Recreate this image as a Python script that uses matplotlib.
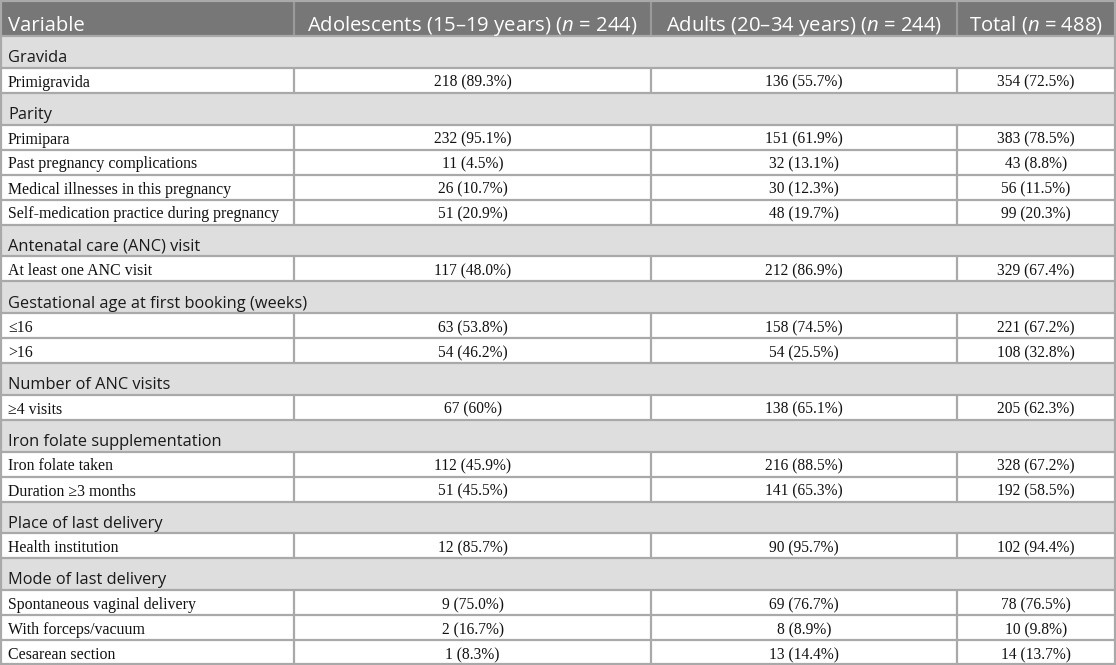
import matplotlib.pyplot as plt
from matplotlib.patches import Rectangle

plt.rcParams['mathtext.fontset'] = 'custom'
plt.rcParams['mathtext.rm'] = 'Open Sans'
plt.rcParams['mathtext.it'] = 'Open Sans:italic'

# table content
headers = ["Variable",
           "Adolescents (15\u201319 years) ($\\mathit{n}$ = 244)",
           "Adults (20\u201334 years) ($\\mathit{n}$ = 244)",
           "Total ($\\mathit{n}$ = 488)"]

sections = ["Gravida", "Parity", "Antenatal care (ANC) visit",
            "Gestational age at first booking (weeks)", "Number of ANC visits",
            "Iron folate supplementation", "Place of last delivery",
            "Mode of last delivery"]

row_labels = [
    ["Primigravida"],
    ["Primipara", "Past pregnancy complications", "Medical illnesses in this pregnancy",
     "Self-medication practice during pregnancy"],
    ["At least one ANC visit"],
    ["\u226416", ">16"],
    ["\u22654 visits"],
    ["Iron folate taken", "Duration \u22653 months"],
    ["Health institution"],
    ["Spontaneous vaginal delivery", "With forceps/vacuum", "Cesarean section"],
]

adolescents = [
    ["218 (89.3%)"],
    ["232 (95.1%)", "11 (4.5%)", "26 (10.7%)", "51 (20.9%)"],
    ["117 (48.0%)"],
    ["63 (53.8%)", "54 (46.2%)"],
    ["67 (60%)"],
    ["112 (45.9%)", "51 (45.5%)"],
    ["12 (85.7%)"],
    ["9 (75.0%)", "2 (16.7%)", "1 (8.3%)"],
]

adults = [
    ["136 (55.7%)"],
    ["151 (61.9%)", "32 (13.1%)", "30 (12.3%)", "48 (19.7%)"],
    ["212 (86.9%)"],
    ["158 (74.5%)", "54 (25.5%)"],
    ["138 (65.1%)"],
    ["216 (88.5%)", "141 (65.3%)"],
    ["90 (95.7%)"],
    ["69 (76.7%)", "8 (8.9%)", "13 (14.4%)"],
]

totals = [
    ["354 (72.5%)"],
    ["383 (78.5%)", "43 (8.8%)", "56 (11.5%)", "99 (20.3%)"],
    ["329 (67.4%)"],
    ["221 (67.2%)", "108 (32.8%)"],
    ["205 (62.3%)"],
    ["328 (67.2%)", "192 (58.5%)"],
    ["102 (94.4%)"],
    ["78 (76.5%)", "10 (9.8%)", "14 (13.7%)"],
]

W, H = 1116, 665
col_edges = [1, 294, 651, 957, 1115]
header_h = 36
section_h = 31.75
row_h = 25

header_bg = "#777777"
section_bg = "#dedede"
line_col = "#a9a9a9"

fig = plt.figure(figsize=(W / 100, H / 100), dpi=100)
ax = fig.add_axes([0, 0, 1, 1])
ax.set_xlim(0, W)
ax.set_ylim(H, 0)
ax.axis("off")

sans = "Open Sans"
serif = "Liberation Serif"


def hline(y, x0=col_edges[0], x1=col_edges[-1]):
    ax.plot([x0, x1], [y, y], color=line_col, lw=1.6, solid_capstyle="butt")


def vline(x, y0, y1, col=line_col):
    ax.plot([x, x], [y0, y1], color=col, lw=1.6, solid_capstyle="butt")


# header
y = 0
ax.add_patch(Rectangle((col_edges[0], y), col_edges[-1] - col_edges[0], header_h,
                       facecolor=header_bg, edgecolor="none"))
for i, h in enumerate(headers):
    if i == 0:
        ax.text(col_edges[0] + 7, y + 31, h, color="white", fontsize=14.6,
                family=sans, ha="left", va="baseline")
    else:
        ax.text((col_edges[i] + col_edges[i + 1]) / 2, y + 31, h,
                color="white", fontsize=14.6, family=sans, ha="center", va="baseline")
for x in col_edges[1:-1]:
    vline(x, y, y + header_h, "#9a9a9a")
y += header_h

for s, name in enumerate(sections):
    ax.add_patch(Rectangle((col_edges[0], y), col_edges[-1] - col_edges[0], section_h,
                           facecolor=section_bg, edgecolor="none"))
    hline(y)
    ax.text(col_edges[0] + 7, y + section_h - 5.5, name, color="#1a1a1a", fontsize=11.8,
            family=sans, ha="left", va="baseline")
    y += section_h
    for r, lab in enumerate(row_labels[s]):
        hline(y)
        by = y + row_h - 6
        ax.text(col_edges[0] + 7, by, lab, fontsize=11.4, family=serif,
                ha="left", va="baseline", color="#111111")
        for c, vals in enumerate([adolescents, adults, totals]):
            ax.text((col_edges[c + 1] + col_edges[c + 2]) / 2, by, vals[s][r],
                    fontsize=11.2, family=serif, ha="center", va="baseline", color="#111111")
        for x in col_edges[1:-1]:
            vline(x, y, y + row_h)
        y += row_h

hline(H - 1)
hline(1)
vline(col_edges[0], 0, H)
vline(col_edges[-1], 0, H)

fig.savefig("out.png", dpi=100)
